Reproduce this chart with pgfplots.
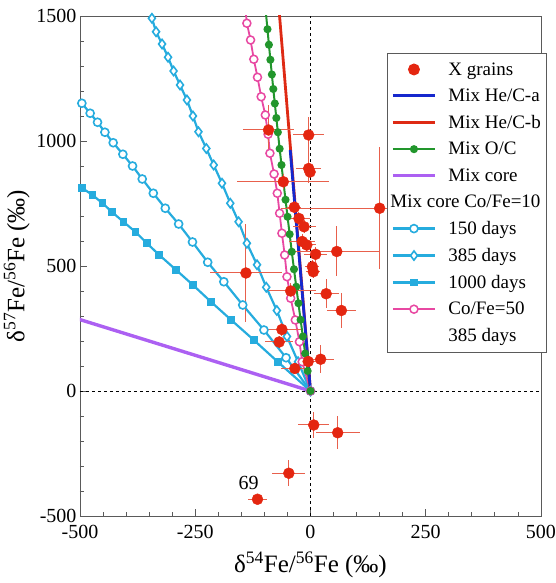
\documentclass[border=0pt]{standalone}
\usepackage{fontspec}
\setmainfont{Liberation Serif}
\usepackage{pgfplots}
\pgfplotsset{compat=1.18}

\definecolor{ptred}{RGB}{228,38,16}
\definecolor{barred}{RGB}{232,96,76}
\definecolor{hcblue}{RGB}{22,40,205}
\definecolor{hcred}{RGB}{222,42,20}
\definecolor{ocgreen}{RGB}{34,150,44}
\definecolor{corepurple}{RGB}{172,96,242}
\definecolor{daycyan}{RGB}{38,172,222}
\definecolor{cfpink}{RGB}{232,72,162}
\definecolor{axgray}{RGB}{90,90,90}

% X grain measurements: delta54, delta57 and their errors
\pgfplotstableread{
x y ex ey
-91 1044 55 100
-4 1024 33 73
-4 890 27 60
-1 876 10 20
-59 837 100 30
150 731 215 245
-35 735 15 25
-25 690 25 25
-14 657 25 25
-18 598 28 30
-8 584 20 25
11 547 25 30
57 558 94 100
4 497 15 25
6 477 15 25
-140 472 78 195
-43 400 54 30
34 389 27 57
67 322 31 70
-62 246 41 25
-68 196 30 25
-5 118 20 20
22 127 29 57
-34 90 30 20
7 -136 34 53
59 -167 48 67
-47 -329 36 52
-115 -433 21 8
}\grains

\begin{document}
\begin{tikzpicture}
\begin{axis}[
  at={(0,0)}, anchor=south west,
  scale only axis, width=461bp, height=500bp,
  xmin=-500, xmax=500, ymin=-500, ymax=1500,
  xtick={-500,-250,0,250,500}, ytick={-500,0,500,1000,1500},
  minor x tick num=4, minor y tick num=4,
  tick align=inside, tick pos=left,
  major tick length=7bp, minor tick length=4bp,
  axis line style={axgray, line width=0.9bp},
  tick style={axgray, line width=0.8bp},
  /pgf/number format/assume math mode=true,
  /pgf/number format/set thousands separator={},
  ticklabel style={font=\fontsize{20bp}{24bp}\selectfont},
  xticklabel style={yshift=-6bp},
  xlabel={δ\textsuperscript{54}Fe/\textsuperscript{56}Fe (‰)},
  ylabel={δ\textsuperscript{57}Fe/\textsuperscript{56}Fe (‰)},
  label style={font=\fontsize{25bp}{30bp}\selectfont},
  xlabel style={at={(axis description cs:0.5,-0.097)}, anchor=center},
  ylabel style={at={(axis description cs:-0.137,0.5)}, anchor=center},
  legend image code/.code={\draw[mark repeat=2,mark phase=2,#1] plot coordinates {(0bp,0bp) (21bp,0bp) (42bp,0bp)};},
  legend cell align=left,
  legend style={at={(axis description cs:0.666,0.926)}, anchor=north west,
    draw=axgray, line width=0.9bp, fill=white,
    font=\fontsize{19bp}{22bp}\selectfont, row sep=8.3bp, column sep=10bp,
    inner xsep=4bp, inner ysep=7bp},
]

% legend entries
\addlegendimage{only marks, mark=*, mark size=5.5bp, color=ptred}
\addlegendentry{X grains}
\addlegendimage{hcblue, line width=2.8bp}
\addlegendentry{Mix He/C-a}
\addlegendimage{hcred, line width=2.8bp}
\addlegendentry{Mix He/C-b}
\addlegendimage{ocgreen, line width=2bp, mark=*, mark size=3bp}
\addlegendentry{Mix O/C}
\addlegendimage{corepurple, line width=3bp}
\addlegendentry{Mix core}
\addlegendimage{empty legend}
\addlegendentry{\hspace{-58bp}Mix core Co/Fe=10}
\addlegendimage{daycyan, line width=2.2bp, mark=*, mark size=4bp, mark options={fill=white, line width=1.6bp}}
\addlegendentry{150 days}
\addlegendimage{daycyan, line width=2.2bp, mark=diamond*, mark size=4.6bp, mark options={fill=white, line width=1.6bp}}
\addlegendentry{385 days}
\addlegendimage{daycyan, line width=2.2bp, mark=square*, mark size=2.7bp}
\addlegendentry{1000 days}
\addlegendimage{cfpink, line width=1.8bp, mark=*, mark size=4bp, mark options={fill=white, line width=1.5bp}}
\addlegendentry{Co/Fe=50}
\addlegendimage{empty legend}
\addlegendentry{385 days}

% zero lines
\addplot[black, line width=0.9bp, dash pattern=on 3bp off 3bp, forget plot] coordinates {(0,-500) (0,1500)};
\addplot[black, line width=0.9bp, dash pattern=on 3bp off 3bp, forget plot] coordinates {(-500,0) (500,0)};

% mix core
\addplot[corepurple, line width=3.4bp, forget plot] coordinates {(0,0) (-520,297)};

% Co/Fe=10, 150 days
\addplot[daycyan, line width=2.2bp, mark=*, mark size=4bp, mark options={fill=white, line width=1.6bp}, forget plot] coordinates {
(-510,1175) (-496,1151) (-478,1111) (-462,1075) (-446,1035) (-428,993) (-407,947) (-386,900)
(-365,848) (-341,791) (-315,731) (-286,668) (-256,596) (-223,515) (-188,437)
(-147,344) (-101,244) (-53,133) (0,0)};

% Co/Fe=10, 385 days
\addplot[daycyan, line width=2.2bp, mark=diamond*, mark size=4.6bp, mark options={fill=white, line width=1.6bp}, forget plot] coordinates {
(-350,1525) (-344,1491) (-335,1437) (-322,1388) (-309,1335) (-297,1280) (-283,1224) (-268,1164)
(-255,1100) (-243,1037) (-226,970) (-210,904) (-192,831) (-174,751) (-156,677)
(-138,591) (-116,505) (-96,415) (-73,322) (-51,218) (-27,117) (0,0)};

% Co/Fe=10, 1000 days
\addplot[daycyan, line width=2.2bp, mark=square*, mark size=2.7bp, forget plot] coordinates {
(-512,838) (-496,813) (-473,784) (-451,751) (-430,715) (-406,677) (-380,637) (-355,591)
(-328,544) (-292,485) (-255,424) (-216,357) (-172,284) (-123,204) (-70,115) (0,0)};

% Co/Fe=50, 385 days
\addplot[cfpink, line width=1.8bp, mark=*, mark size=4bp, mark options={fill=white, line width=1.5bp}, forget plot] coordinates {
(-141,1525) (-138,1471) (-130,1404) (-123,1327) (-115,1255) (-107,1177) (-98,1104) (-92,1027)
(-88,951) (-79,868) (-72,791) (-67,711) (-62,631) (-56,544) (-51,457)
(-43,371) (-33,284) (-24,197) (-18,117) (0,0)};

% mix O/C
\addplot[ocgreen, line width=2bp, mark=*, mark size=3bp, forget plot] coordinates {
(-97.1,1520) (-93.3,1447) (-90.2,1385) (-87.0,1325) (-83.8,1266) (-80.7,1208) (-77.4,1150)
(-74.1,1092) (-70.8,1035) (-66.9,969) (-62.9,904) (-58.6,834) (-54.2,765)
(-49.8,697) (-45.2,627) (-40.6,557) (-35.8,487) (-30.9,417) (-26.2,351)
(-21.5,285) (-16.6,218) (-11.5,150) (-6.2,80) (0,0)};

% mix He/C
\addplot[hcred, line width=2.8bp, forget plot] coordinates {(0,0) (-68,1520)};
\addplot[hcblue, line width=2.8bp, forget plot] coordinates {(0,0) (-44,964)};

% grains
\addplot[only marks, mark=*, mark size=5.5bp, color=ptred, forget plot,
  error bars/.cd, x dir=both, x explicit, y dir=both, y explicit,
  error mark=none, error bar style={barred, line width=1bp}]
  table[x=x, y=y, x error=ex, y error=ey] {\grains};

\node[font=\fontsize{20bp}{24bp}\selectfont] at (axis cs:-134,-367) {69};
\end{axis}
\pgfresetboundingbox
\path[use as bounding box] (-80bp,-67bp) rectangle (476bp,516bp);
\end{tikzpicture}
\end{document}
